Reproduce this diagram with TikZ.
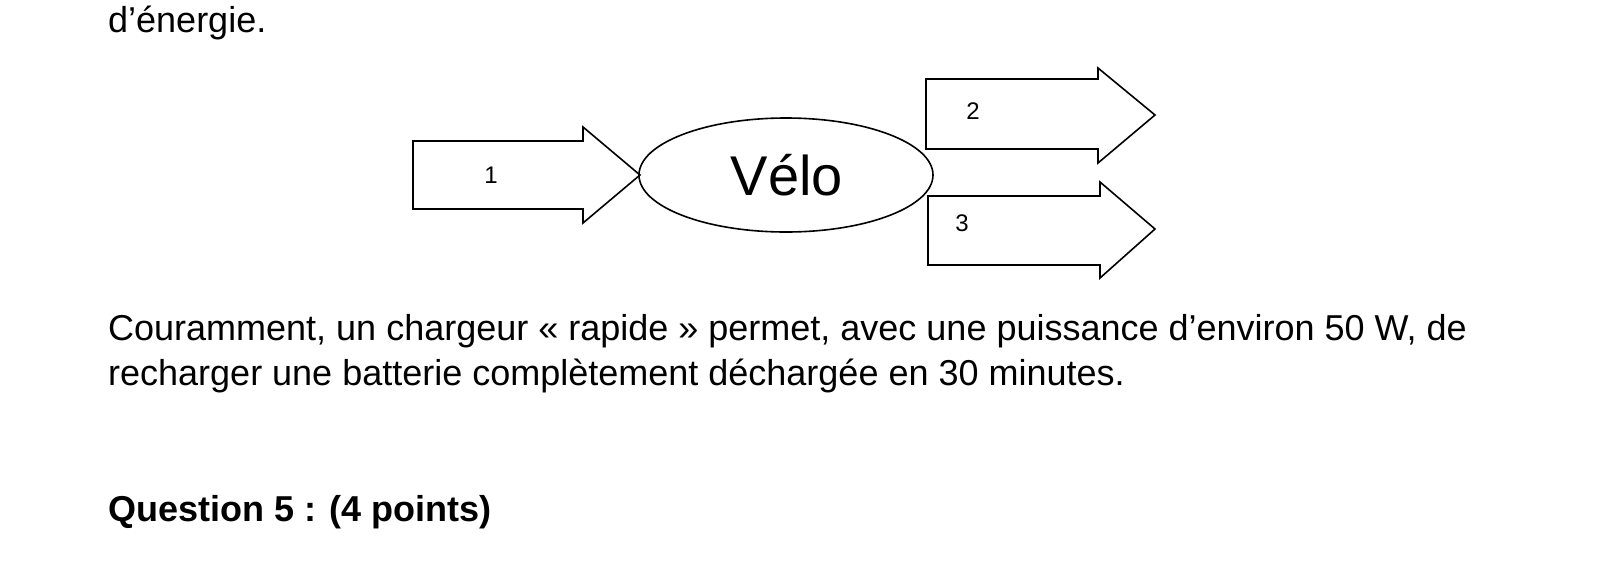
\documentclass[tikz,border=0pt]{standalone}
\usepackage{fontspec}
\usetikzlibrary{shapes.geometric}
\setmainfont{Liberation Sans}
\begin{document}
\begin{tikzpicture}[x=1pt,y=-1pt,
  txt/.style={anchor=base west,inner sep=0pt,font=\fontsize{36}{40}\selectfont},
  arr/.style={draw=black,line width=1.6pt,fill=white,line join=miter},
  num/.style={font=\fontsize{24}{26}\selectfont,inner sep=0pt}]
\useasboundingbox (0,0) rectangle (1606,582);
\node[txt] (t0) at (108,32) {d’énergie.};
\draw[arr] (413,141) -- (583,141) -- (583,127) -- (640,175) -- (583,223) -- (583,209) -- (413,209) -- cycle;
\node[num] (n1) at (491,175) {1};
\node[draw,line width=1.6pt,ellipse,minimum width=294pt,minimum height=114pt,inner sep=0pt] (velo) at (786,175) {};
\node[font=\fontsize{56}{60}\selectfont,inner sep=0pt] (vt) at (787,175) {Vélo};
\draw[arr] (926,79) -- (1098,79) -- (1098,68) -- (1155,115) -- (1098,163) -- (1098,149) -- (926,149) -- cycle;
\node[num] (n2) at (973,111) {2};
\draw[arr] (928,196) -- (1100,196) -- (1100,182) -- (1155,229) -- (1100,278) -- (1100,265) -- (928,265) -- cycle;
\node[num] (n3) at (962,223) {3};
\node[txt] (t1) at (108,340) {Couramment, un chargeur « rapide » permet, avec une puissance d’environ 50 W, de};
\node[txt] (t2) at (108,385) {recharger une batterie complètement déchargée en 30 minutes.};
\node[txt,font=\fontsize{36}{40}\selectfont\bfseries] (q) at (108,521) {Question 5 : (4 points)};
\end{tikzpicture}
\end{document}
